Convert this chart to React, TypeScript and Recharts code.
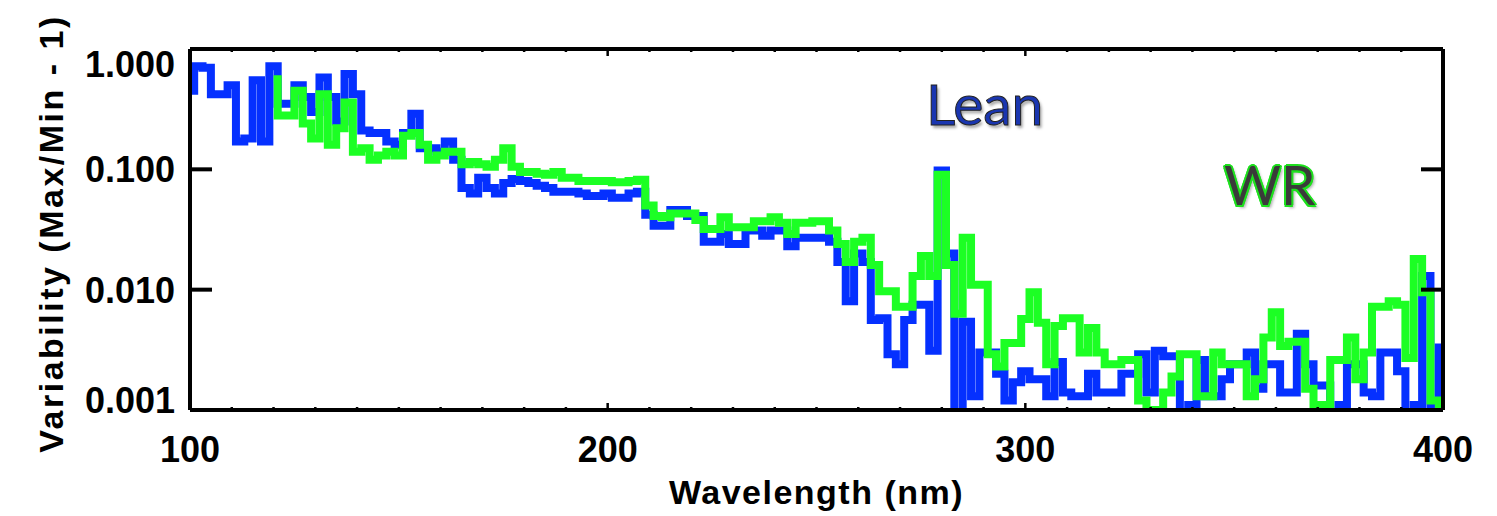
import React from 'react';
import { LineChart, Line, XAxis, YAxis } from 'recharts';

// ─── Data (2 nm bins) ─────────────────────────────────────────────────────────

const WAVELENGTH = [
  100, 102, 104, 106, 108, 110, 112, 114, 116, 118,
  120, 122, 124, 126, 128, 130, 132, 134, 136, 138,
  140, 142, 144, 146, 148, 150, 152, 154, 156, 158,
  160, 162, 164, 166, 168, 170, 172, 174, 176, 178,
  180, 182, 184, 186, 188, 190, 192, 194, 196, 198,
  200, 202, 204, 206, 208, 210, 212, 214, 216, 218,
  220, 222, 224, 226, 228, 230, 232, 234, 236, 238,
  240, 242, 244, 246, 248, 250, 252, 254, 256, 258,
  260, 262, 264, 266, 268, 270, 272, 274, 276, 278,
  280, 282, 284, 286, 288, 290, 292, 294, 296, 298,
  300, 302, 304, 306, 308, 310, 312, 314, 316, 318,
  320, 322, 324, 326, 328, 330, 332, 334, 336, 338,
  340, 342, 344, 346, 348, 350, 352, 354, 356, 358,
  360, 362, 364, 366, 368, 370, 372, 374, 376, 378,
  380, 382, 384, 386, 388, 390, 392, 394, 396, 398,
  400,
];

const LEAN = [
  0.45, 0.72, 0.70, 0.42, 0.42, 0.50, 0.17, 0.18, 0.55, 0.17,
  0.72, 0.35, 0.35, 0.50, 0.40, 0.30, 0.58, 0.40, 0.25, 0.62,
  0.42, 0.21, 0.20, 0.20, 0.17, 0.16, 0.20, 0.29, 0.15, 0.15,
  0.14, 0.17, 0.12, 0.070, 0.063, 0.085, 0.070, 0.063, 0.077, 0.083,
  0.080, 0.077, 0.073, 0.070, 0.065, 0.065, 0.065, 0.063, 0.060, 0.060,
  0.063, 0.058, 0.058, 0.063, 0.065, 0.042, 0.034, 0.034, 0.046, 0.046,
  0.041, 0.041, 0.025, 0.025, 0.029, 0.024, 0.024, 0.031, 0.031, 0.028,
  0.031, 0.031, 0.023, 0.027, 0.027, 0.027, 0.027, 0.025, 0.017, 0.008,
  0.020, 0.017, 0.0056, 0.0058, 0.0029, 0.0024, 0.0056, 0.0075, 0.0075, 0.0031,
  0.098, 0.020, 0.0008, 0.0054, 0.0013, 0.0030, 0.0030, 0.0020, 0.0012, 0.0017,
  0.0021, 0.0018, 0.0018, 0.0013, 0.0025, 0.0014, 0.0013, 0.0013, 0.0020, 0.0014,
  0.0014, 0.0014, 0.0020, 0.0020, 0.0029, 0.0014, 0.0031, 0.0028, 0.0028, 0.0009,
  0.0011, 0.0026, 0.0013, 0.0013, 0.0018, 0.0024, 0.0024, 0.0030, 0.0015, 0.0024,
  0.0024, 0.0014, 0.0014, 0.0043, 0.0024, 0.0016, 0.0016, 0.0009, 0.0011, 0.0024,
  0.0024, 0.0014, 0.0013, 0.0030, 0.0030, 0.0021, 0.0009, 0.0011, 0.013, 0.0011,
  0.0033,
];

const WR = [
  null, null, null, null, null, null, null, null, null, null,
  0.56, 0.28, 0.28, 0.45, 0.24, 0.18, 0.42, 0.16, 0.22, 0.36,
  0.14, 0.15, 0.12, 0.13, 0.14, 0.13, 0.19, 0.20, 0.16, 0.12,
  0.13, 0.14, 0.14, 0.11, 0.115, 0.11, 0.105, 0.12, 0.15, 0.105,
  0.095, 0.095, 0.092, 0.09, 0.095, 0.085, 0.085, 0.08, 0.08, 0.08,
  0.08, 0.078, 0.078, 0.08, 0.082, 0.05, 0.041, 0.04, 0.043, 0.043,
  0.043, 0.038, 0.032, 0.032, 0.04, 0.033, 0.033, 0.033, 0.037, 0.037,
  0.04, 0.036, 0.029, 0.036, 0.036, 0.037, 0.037, 0.031, 0.024, 0.017,
  0.025, 0.027, 0.016, 0.0097, 0.0097, 0.0072, 0.0072, 0.013, 0.019, 0.013,
  0.09, 0.016, 0.0063, 0.027, 0.011, 0.011, 0.0029, 0.0023, 0.0036, 0.0036,
  0.0057, 0.0095, 0.0053, 0.0024, 0.005, 0.0058, 0.0058, 0.003, 0.0048, 0.003,
  0.0024, 0.0024, 0.0026, 0.0026, 0.0012, 0.001, 0.001, 0.0014, 0.0019, 0.0029,
  0.0029, 0.0013, 0.0013, 0.003, 0.0024, 0.0024, 0.0024, 0.0013, 0.0018, 0.004,
  0.0065, 0.0034, 0.0037, 0.0037, 0.0015, 0.0011, 0.0011, 0.0026, 0.0026, 0.004,
  0.0018, 0.003, 0.0072, 0.0072, 0.008, 0.0075, 0.0027, 0.018, 0.0095, 0.0012,
  0.001,
];

const X_TICKS = [
  100, 110, 120, 130, 140, 150, 160, 170, 180, 190,
  200, 210, 220, 230, 240, 250, 260, 270, 280, 290,
  300, 310, 320, 330, 340, 350, 360, 370, 380, 390, 400,
];
const Y_TICKS = [0.001, 0.01, 0.1, 1];

// ─── Styling ──────────────────────────────────────────────────────────────────

const W = 1497;
const H = 516;
const BLUE = '#0530ff';
const GREEN = '#1cff24';
const AXIS_FONT = "'Liberation Sans', Arial, Helvetica, sans-serif";

const rows = WAVELENGTH.map((nm, i) => ({ nm, lean: LEAN[i], wr: WR[i] }));

// ─── Ticks (IDL style: drawn inwards) ─────────────────────────────────────────

function BottomTick(props: any): React.ReactElement {
  const { x, y, payload } = props;
  const major = payload.value % 100 === 0;
  return (
    <g>
      <line x1={x} x2={x} y1={y} y2={y - (major ? 7 : 3)} stroke="#000" strokeWidth={2.5} />
      {major && (
        <text
          x={x}
          y={y + 52}
          textAnchor="middle"
          fontFamily={AXIS_FONT}
          fontWeight={700}
          fontSize={36}
          fill="#000"
        >
          {payload.value}
        </text>
      )}
    </g>
  );
}

function TopTick(props: any): React.ReactElement {
  const { x, y, payload } = props;
  const major = payload.value % 100 === 0;
  return <line x1={x} x2={x} y1={y} y2={y + (major ? 7 : 3)} stroke="#000" strokeWidth={2.5} />;
}

function LeftTick(props: any): React.ReactElement {
  const { x, y, payload } = props;
  const v = payload.value;
  const shift = v >= 1 ? 15 : v <= 0.001 ? -10 : 0;
  return (
    <g>
      <line x1={x} x2={x + 22} y1={y} y2={y} stroke="#000" strokeWidth={4} />
      <text
        x={x - 15}
        y={y + shift}
        dy="0.36em"
        textAnchor="end"
        fontFamily={AXIS_FONT}
        fontWeight={700}
        fontSize={36}
        fill="#000"
      >
        {v.toFixed(3)}
      </text>
    </g>
  );
}

function RightTick(props: any): React.ReactElement {
  const { x, y } = props;
  return <line x1={x} x2={x - 22} y1={y} y2={y} stroke="#000" strokeWidth={4} />;
}

// ─── Component ────────────────────────────────────────────────────────────────

export default function App(): React.ReactElement {
  const frame = { stroke: '#000', strokeWidth: 4 };

  return (
    <div style={{ position: 'absolute', left: 0, top: 0, width: W, height: H, background: '#fff' }}>
      <LineChart width={W} height={H} data={rows} margin={{ top: 48, right: 53, bottom: 0, left: 0 }}>
        <XAxis
          xAxisId="bottom"
          dataKey="nm"
          type="number"
          domain={[100, 400]}
          ticks={X_TICKS}
          interval={0}
          height={106}
          tickSize={0}
          tickMargin={0}
          axisLine={frame}
          tickLine={false}
          tick={<BottomTick />}
          label={{
            value: 'Wavelength (nm)',
            position: 'insideBottom',
            offset: 12,
            fontFamily: AXIS_FONT,
            fontWeight: 700,
            fontSize: 34,
            fill: '#000',
            letterSpacing: 1.5,
          }}
        />
        <XAxis
          xAxisId="top"
          orientation="top"
          dataKey="nm"
          type="number"
          domain={[100, 400]}
          ticks={X_TICKS}
          interval={0}
          height={1}
          tickSize={0}
          tickMargin={0}
          axisLine={frame}
          tickLine={false}
          tick={<TopTick />}
        />
        <YAxis
          yAxisId="left"
          scale="log"
          domain={[0.001, 1]}
          allowDataOverflow
          ticks={Y_TICKS}
          interval={0}
          width={190}
          tickSize={0}
          tickMargin={0}
          axisLine={frame}
          tickLine={false}
          tick={<LeftTick />}
          label={{
            value: 'Variability (Max/Min - 1)',
            angle: -90,
            position: 'center',
            dx: -44,
            dy: 4,
            fontFamily: AXIS_FONT,
            fontWeight: 700,
            fontSize: 34,
            fill: '#000',
            letterSpacing: 2.5,
          }}
        />
        <YAxis
          yAxisId="right"
          orientation="right"
          scale="log"
          domain={[0.001, 1]}
          allowDataOverflow
          ticks={Y_TICKS}
          interval={0}
          width={1}
          tickSize={0}
          tickMargin={0}
          axisLine={frame}
          tickLine={false}
          tick={<RightTick />}
        />
        <Line
          xAxisId="bottom"
          yAxisId="left"
          dataKey="lean"
          type="step"
          stroke={BLUE}
          strokeWidth={8}
          strokeLinejoin="miter"
          dot={false}
          activeDot={false}
          isAnimationActive={false}
        />
        <Line
          xAxisId="bottom"
          yAxisId="left"
          dataKey="wr"
          type="step"
          stroke={GREEN}
          strokeWidth={8}
          strokeLinejoin="miter"
          dot={false}
          activeDot={false}
          isAnimationActive={false}
        />
      </LineChart>

      <div
        style={{
          position: 'absolute',
          left: 926,
          top: 68,
          fontFamily: 'Lato, "Open Sans", sans-serif',
          fontSize: 57,
          lineHeight: '70px',
          color: '#1a36b0',
          WebkitTextStroke: '1px #222',
          textShadow: '2px 3px 3px rgba(0,0,0,0.35)',
        }}
      >
        Lean
      </div>
      <div
        style={{
          position: 'absolute',
          left: 1224,
          top: 149,
          fontFamily: 'Lato, "Open Sans", sans-serif',
          fontSize: 55,
          lineHeight: '70px',
          color: '#3a3a3a',
          textShadow:
            '-2px 0 #1ee01e, 2px 0 #1ee01e, 0 -2px #1ee01e, 0 2px #1ee01e, -1.5px -1.5px #1ee01e, 1.5px 1.5px #1ee01e, -1.5px 1.5px #1ee01e, 1.5px -1.5px #1ee01e, 3px 3px 3px rgba(0,0,0,0.3)',
        }}
      >
        WR
      </div>
    </div>
  );
}
